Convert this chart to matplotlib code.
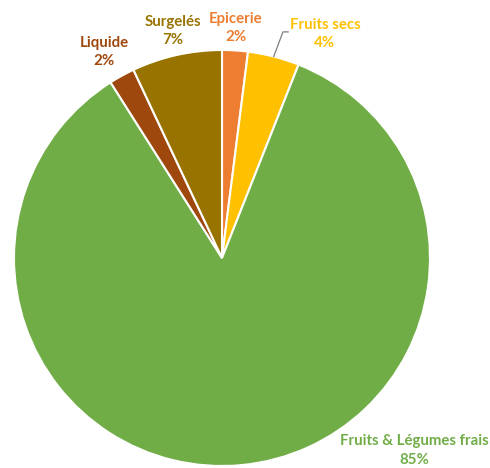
import numpy as np
import matplotlib.pyplot as plt

# ── DATA ──────────────────────────────────────────────────────────────────
categories = ["Epicerie", "Fruits secs", "Fruits & Légumes frais", "Liquide", "Surgelés"]
shares     = [2, 4, 85, 2, 7]
colors     = ["#ED7D31", "#FFC000", "#70AD47", "#9E480E", "#997300"]

# ── LAYOUT (pixels, origin bottom-left) ───────────────────────────────────
W, H   = 490, 468
cx, cy = 222, 210
R      = 208
# label centres relative to pie centre, in radius units
label_off = [(0.067, 1.106), (0.495, 1.077), (0.923, -0.925), (-0.567, 0.990), (-0.236, 1.091)]

fig = plt.figure(figsize=(W / 100, H / 100), dpi=100)
ax = fig.add_axes([0, 0, 1, 1])

wedges, _ = ax.pie(shares, colors=colors, startangle=90, counterclock=False,
                   center=(cx, cy), radius=R,
                   wedgeprops=dict(edgecolor="white", linewidth=1.5))
ax.set_xlim(0, W)
ax.set_ylim(0, H)
ax.set_aspect("equal")
ax.axis("off")

for w, name, val, col, (ox, oy) in zip(wedges, categories, shares, colors, label_off):
    tx, ty = cx + ox * R, cy + oy * R
    ax.text(tx, ty, f"{name}\n{val}%", color=col, ha="center", va="center",
            fontsize=10.8, fontweight="bold", family="Lato", linespacing=1.4)

# leader line for the small "Fruits secs" slice
w = wedges[1]
mid = np.deg2rad((w.theta1 + w.theta2) / 2)
px, py = cx + R * np.cos(mid), cy + R * np.sin(mid)
ax.plot([px, cx + 0.293 * R, cx + 0.318 * R], [py, cy + 1.087 * R, cy + 1.087 * R],
        color="#7F7F7F", linewidth=0.9)

plt.savefig("out.png", dpi=100)
